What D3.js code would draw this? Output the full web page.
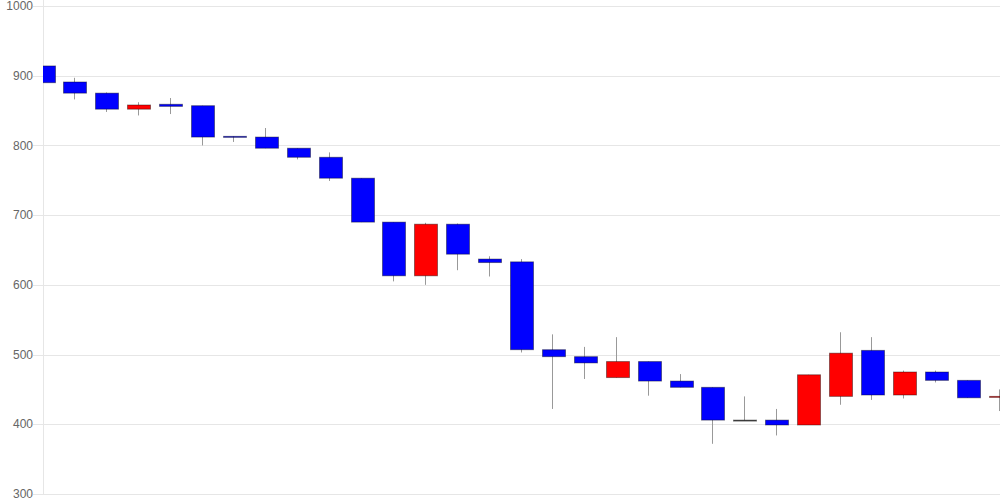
<!DOCTYPE html>
<html><head><meta charset="utf-8">
<script src="https://cdn.jsdelivr.net/npm/d3@7"></script>
<style>body{margin:0;background:#fff}svg{display:block}</style>
</head><body><svg id="c" width="1000" height="500"></svg>
<script>
const categories = [1,2,3,4,5,6,7,8,9,10,11,12,13,14,15,16,17,18,19,20,21,22,23,24,25,26,27,28,29,30,31];
const openV  = [914,891,875,852,859,857,813,812,796,783,753,690,613,687,637,633,507,497,467,490,462,453,406,406,399,440,506,442,475,463,439];
const highV  = [914,897,876,862,868,857,813,825,796,790,753,690,689,688,641,637,529,511,525,490,472,453,440,422,471,532,525,477,477,463,450];
const lowV   = [890,866,848,843,845,800,805,796,780,749,690,605,600,621,612,503,422,465,467,441,453,372,405,384,399,428,435,437,460,438,419];
const closeV = [890,875,852,858,856,812,812,796,783,753,690,613,687,644,632,507,497,488,490,462,453,406,406,399,471,502,442,475,463,438,440];
const yTicks = [300,400,500,600,700,800,900,1000];

const svg = d3.select("#c");
const L = 43, R = 1000, T = 6, B = 494;
const x = d3.scalePoint().domain(categories).range([L, R]);
const y = d3.scaleLinear().domain([300, 1000]).range([B, T]);

// gridlines
svg.append("g").selectAll("line").data(yTicks).join("line")
  .attr("x1", L - 10).attr("x2", R)
  .attr("y1", d => Math.round(y(d)) + 0.5).attr("y2", d => Math.round(y(d)) + 0.5)
  .attr("stroke", "#e6e6e6");
svg.append("line").attr("x1", L + 0.5).attr("x2", L + 0.5).attr("y1", 0).attr("y2", B)
  .attr("stroke", "#e6e6e6");

// labels
svg.append("g").selectAll("text").data(yTicks).join("text")
  .attr("x", 33).attr("y", d => y(d)).attr("dy", "0.35em")
  .attr("text-anchor", "end")
  .attr("font-family", "Liberation Sans, Arial, sans-serif")
  .attr("font-size", 12).attr("fill", "#666")
  .text(d => d);

svg.append("defs").append("clipPath").attr("id", "clip")
  .append("rect").attr("x", L).attr("y", 0).attr("width", R - L).attr("height", 500);

const g = svg.append("g").attr("clip-path", "url(#clip)");
const data = categories.map((c, i) => ({c, o: openV[i], h: highV[i], l: lowV[i], cl: closeV[i]}));
const w = 23;

g.selectAll("line.wick").data(data).join("line")
  .attr("class", "wick")
  .attr("x1", d => Math.round(x(d.c)) - 0.5).attr("x2", d => Math.round(x(d.c)) - 0.5)
  .attr("y1", d => y(d.h)).attr("y2", d => y(d.l))
  .attr("stroke", "#999").attr("stroke-width", 1);

g.selectAll("rect.body").data(data).join("rect")
  .attr("class", "body")
  .attr("x", d => Math.round(x(d.c) - w / 2) + 0.5)
  .attr("width", w)
  .attr("y", d => y(Math.max(d.o, d.cl)))
  .attr("height", d => Math.max(1, Math.abs(y(d.o) - y(d.cl))))
  .attr("fill", d => d.cl > d.o ? "#ff0000" : (d.cl < d.o ? "#0000ff" : "#555"))
  .attr("stroke", "rgba(0,0,0,0.4)").attr("stroke-width", 1);
</script>
</body></html>
